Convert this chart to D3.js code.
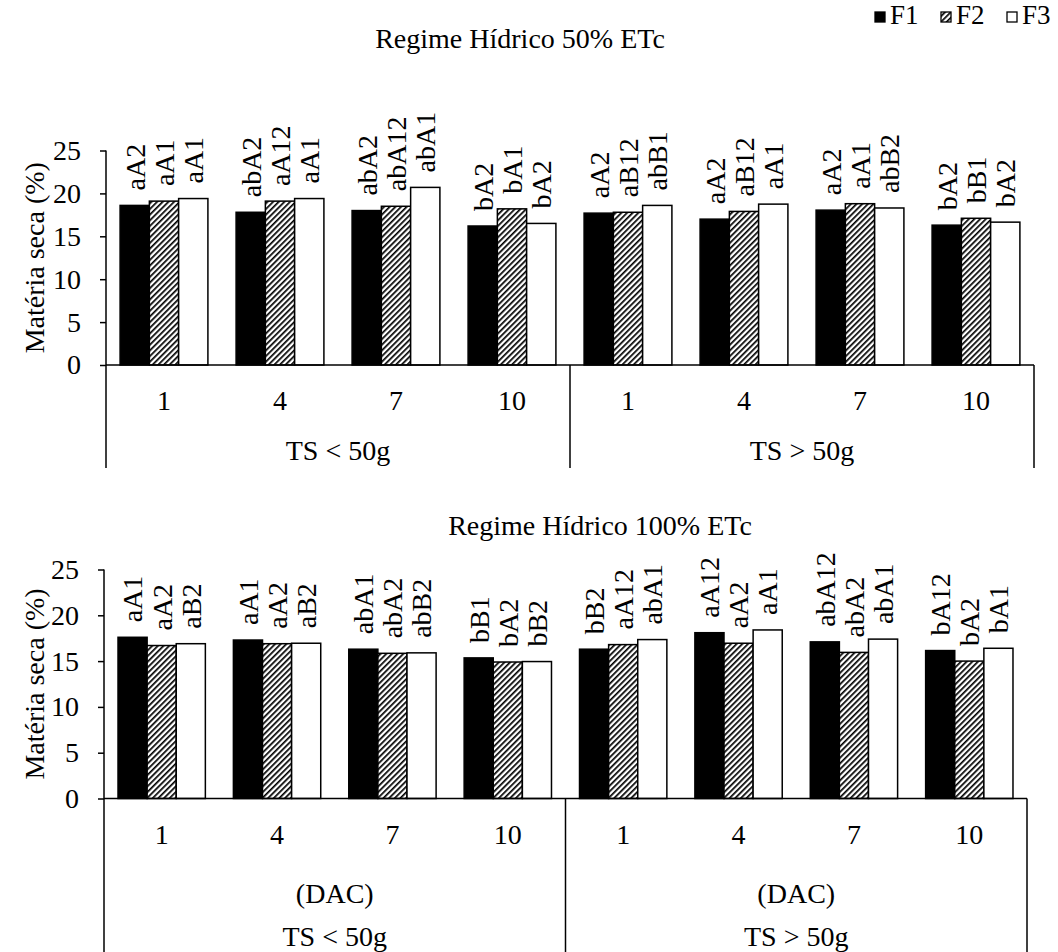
<!DOCTYPE html>
<html lang="pt">
<head>
<meta charset="utf-8">
<style>
  body { margin: 0; background: #fff; }
  svg text { font-family: "Liberation Serif", "Times New Roman", serif; fill: #000; }
</style>
<script src="https://cdn.jsdelivr.net/npm/d3@7/dist/d3.min.js"></script>
</head>
<body>
<div id="chart"></div>
<script>
  var width = 1058, height = 952;

  // categories
  var groups = ["TS < 50g", "TS > 50g"];
  var days = ["1", "4", "7", "10"];
  var series = ["F1", "F2", "F3"];
  var yTicks = [0, 5, 10, 15, 20, 25];

  // Regime Hidrico 50% ETc
  var f1_50 = [18.6, 17.8, 18.0, 16.2, 17.7, 17.0, 18.05, 16.3];
  var f2_50 = [19.1, 19.1, 18.5, 18.2, 17.8, 17.9, 18.8, 17.1];
  var f3_50 = [19.4, 19.4, 20.7, 16.5, 18.6, 18.75, 18.3, 16.65];
  var lab1_50 = ["aA2", "abA2", "abA2", "bA2", "aA2", "aA2", "aA2", "bA2"];
  var lab2_50 = ["aA1", "aA12", "abA12", "bA1", "aB12", "aB12", "aA1", "bB1"];
  var lab3_50 = ["aA1", "aA1", "abA1", "bA2", "abB1", "aA1", "abB2", "bA2"];

  // Regime Hidrico 100% ETc
  var f1_100 = [17.6, 17.3, 16.3, 15.35, 16.3, 18.1, 17.1, 16.15];
  var f2_100 = [16.7, 16.9, 15.85, 14.9, 16.8, 16.95, 15.95, 15.0];
  var f3_100 = [16.9, 16.95, 15.9, 14.95, 17.35, 18.4, 17.4, 16.4];
  var lab1_100 = ["aA1", "aA1", "abA1", "bB1", "bB2", "aA12", "abA12", "bA12"];
  var lab2_100 = ["aA2", "aA2", "abA2", "bA2", "aA12", "aA2", "abA2", "bA2"];
  var lab3_100 = ["aB2", "aB2", "abB2", "bB2", "abA1", "aA1", "abA1", "bA1"];

  var fs = 28;

  var svg = d3.select("#chart").append("svg")
      .attr("width", width)
      .attr("height", height);

  var defs = svg.append("defs");
  var pat = defs.append("pattern")
      .attr("id", "hatch")
      .attr("patternUnits", "userSpaceOnUse")
      .attr("width", 4)
      .attr("height", 4)
      .attr("patternTransform", "rotate(45)");
  pat.append("rect").attr("width", 4).attr("height", 4).attr("fill", "#fff");
  pat.append("rect").attr("width", 1.7).attr("height", 4).attr("fill", "#000");

  var fills = { F1: "#000", F2: "url(#hatch)", F3: "#fff" };

  function drawPanel(p) {
    var g = svg.append("g");
    var cats = d3.range(8);

    var x0 = d3.scaleBand().domain(cats).range([p.left, p.right])
        .paddingInner(0.243).paddingOuter(0.1215);
    var x1 = d3.scaleBand().domain(series).range([0, x0.bandwidth()]);
    var y = d3.scaleLinear().domain([0, 25]).range([p.zero, p.top]);

    var rows = cats.map(function(i) {
      return [
        { s: "F1", v: p.v1[i], l: p.l1[i] },
        { s: "F2", v: p.v2[i], l: p.l2[i] },
        { s: "F3", v: p.v3[i], l: p.l3[i] }
      ];
    });

    var cg = g.selectAll(".cat").data(rows).enter().append("g")
        .attr("transform", function(d, i) { return "translate(" + x0(i) + ",0)"; });

    cg.selectAll("rect").data(function(d) { return d; }).enter().append("rect")
        .attr("x", function(d) { return x1(d.s); })
        .attr("y", function(d) { return y(d.v); })
        .attr("width", x1.bandwidth())
        .attr("height", function(d) { return y(0) - y(d.v); })
        .attr("fill", function(d) { return fills[d.s]; })
        .attr("stroke", "#000")
        .attr("stroke-width", 1.5);

    cg.selectAll("text").data(function(d) { return d; }).enter().append("text")
        .attr("transform", function(d) {
          return "translate(" + (x1(d.s) + x1.bandwidth() / 2) + "," + (y(d.v) - 15) + ") rotate(-90)";
        })
        .attr("dy", "0.35em")
        .style("font-size", fs + "px")
        .text(function(d) { return d.l; });

    // y axis
    var yAxis = d3.axisLeft(y).tickValues(yTicks).tickSize(6).tickSizeOuter(0).tickPadding(19);
    var ax = g.append("g").attr("transform", "translate(" + p.left + ",0)").call(yAxis);
    ax.select(".domain").remove();
    ax.selectAll("line").attr("stroke", "#000").attr("stroke-width", 1.5);
    ax.selectAll("text").style("font-size", fs + "px")
        .style("font-family", "'Liberation Serif', serif");

    // frame lines
    var mid = (p.left + p.right) / 2;
    g.append("line").attr("x1", p.left).attr("x2", p.right).attr("y1", p.zero).attr("y2", p.zero)
        .attr("stroke", "#000").attr("stroke-width", 1.5);
    g.append("line").attr("x1", p.left).attr("x2", p.left).attr("y1", p.top).attr("y2", p.bottom)
        .attr("stroke", "#000").attr("stroke-width", 1.5);
    [mid, p.right].forEach(function(xx) {
      g.append("line").attr("x1", xx).attr("x2", xx).attr("y1", p.zero).attr("y2", p.bottom)
          .attr("stroke", "#000").attr("stroke-width", 1.5);
    });

    // category labels
    g.selectAll(".day").data(cats).enter().append("text")
        .attr("x", function(i) { return x0(i) + x0.bandwidth() / 2; })
        .attr("y", p.dayY)
        .attr("text-anchor", "middle")
        .style("font-size", fs + "px")
        .text(function(i) { return days[i % 4]; });

    if (p.dacY) {
      [0, 1].forEach(function(k) {
        g.append("text")
            .attr("x", p.left + (p.right - p.left) * (k * 2 + 1) / 4)
            .attr("y", p.dacY)
            .attr("text-anchor", "middle")
            .style("font-size", fs + "px")
            .text("(DAC)");
      });
    }

    groups.forEach(function(name, k) {
      g.append("text")
          .attr("x", p.left + (p.right - p.left) * (k * 2 + 1) / 4)
          .attr("y", p.groupY)
          .attr("text-anchor", "middle")
          .style("font-size", fs + "px")
          .text(name);
    });

    // y title
    g.append("text")
        .attr("transform", "translate(" + p.ytX + "," + ((p.zero + p.top) / 2) + ") rotate(-90)")
        .attr("text-anchor", "middle")
        .attr("dy", "0.35em")
        .style("font-size", fs + "px")
        .text("Matéria seca (%)");

    g.append("text")
        .attr("x", p.titleX)
        .attr("y", p.titleY)
        .attr("text-anchor", "middle")
        .style("font-size", fs + "px")
        .text(p.title);
  }

  drawPanel({
    left: 106, right: 1034, zero: 365, top: 150.5, bottom: 468,
    dayY: 410, groupY: 460, dacY: null, ytX: 34,
    title: "Regime Hídrico 50% ETc", titleX: 520, titleY: 48,
    v1: f1_50, v2: f2_50, v3: f3_50, l1: lab1_50, l2: lab2_50, l3: lab3_50
  });

  drawPanel({
    left: 104, right: 1027, zero: 798.5, top: 569.5, bottom: 952,
    dayY: 844, dacY: 903, groupY: 946, ytX: 34,
    title: "Regime Hídrico 100% ETc", titleX: 600, titleY: 535,
    v1: f1_100, v2: f2_100, v3: f3_100, l1: lab1_100, l2: lab2_100, l3: lab3_100
  });

  // legend
  var legX = [875, 941, 1007];
  var leg = svg.append("g");
  series.forEach(function(s, i) {
    leg.append("rect")
        .attr("x", legX[i]).attr("y", 12)
        .attr("width", 10).attr("height", 10)
        .attr("fill", fills[s])
        .attr("stroke", "#000").attr("stroke-width", 1.3);
    leg.append("text")
        .attr("x", legX[i] + 15).attr("y", 24)
        .style("font-size", "27px")
        .text(s);
  });
</script>
</body>
</html>
